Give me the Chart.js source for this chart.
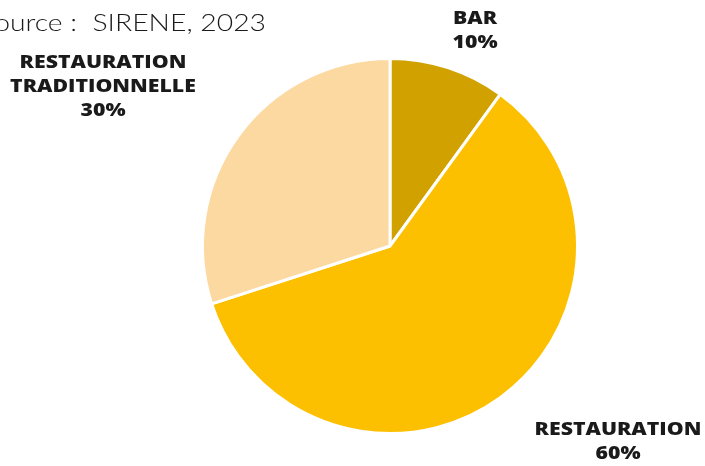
<!DOCTYPE html>
<html>
<head>
<meta charset="utf-8">
<script src="https://cdn.jsdelivr.net/npm/chart.js@4"></script>
<style>
  html, body { margin: 0; padding: 0; background: #ffffff; }
  #wrap { width: 705px; height: 466px; position: relative; }
</style>
</head>
<body>
<div id="wrap"><canvas id="chartSecteurs"></canvas></div>
<script>
// secteurs de la restauration
const categories = ['BAR', 'RESTAURATION', 'RESTAURATION TRADITIONNELLE'];
const parts = [10, 60, 30];
const couleurs = ['#D1A100', '#FCC000', '#FCD9A0'];

// libellés affichés autour du camembert : lignes + ancrage
const libelles = [
  { lignes: ['BAR'], x: 475, y: 19 },
  { lignes: ['RESTAURATION'], x: 618, y: 430 },
  { lignes: ['RESTAURATION', 'TRADITIONNELLE'], x: 103, y: 63 }
];

// texte élargi horizontalement (police large type Montserrat)
function texteEtire(ctx, t, x, y, sx) {
  ctx.save();
  ctx.translate(x, y);
  ctx.scale(sx, 1);
  ctx.fillText(t, 0, 0);
  ctx.restore();
}

const labelsPlugin = {
  id: 'labelsSecteurs',
  afterDraw(chart) {
    const ctx = chart.ctx;
    ctx.save();
    ctx.fillStyle = '#1a1a1a';
    ctx.textAlign = 'center';
    ctx.textBaseline = 'middle';
    ctx.font = '800 17px "Open Sans", sans-serif';
    libelles.forEach((lab, i) => {
      const lignes = lab.lignes.concat(parts[i] + '%');
      lignes.forEach((t, j) => {
        texteEtire(ctx, t, lab.x, lab.y + j * 24, 1.25);
      });
    });
    // source
    ctx.font = '300 24px Lato, sans-serif';
    ctx.fillStyle = '#1a1a1a';
    ctx.textAlign = 'right';
    ctx.textBaseline = 'alphabetic';
    texteEtire(ctx, 'Source :  SIRENE, 2023', 266, 31, 1.18);
    ctx.restore();
  }
};

new Chart(document.getElementById('chartSecteurs'), {
  type: 'pie',
  data: {
    labels: categories,
    datasets: [{
      data: parts,
      backgroundColor: couleurs,
      borderColor: '#ffffff',
      borderWidth: 3
    }]
  },
  options: {
    responsive: true,
    maintainAspectRatio: false,
    animation: false,
    layout: {
      padding: { left: 201, right: 126, top: 57, bottom: 31 }
    },
    plugins: {
      legend: { display: false },
      tooltip: { enabled: false }
    }
  },
  plugins: [labelsPlugin]
});
</script>
</body>
</html>
